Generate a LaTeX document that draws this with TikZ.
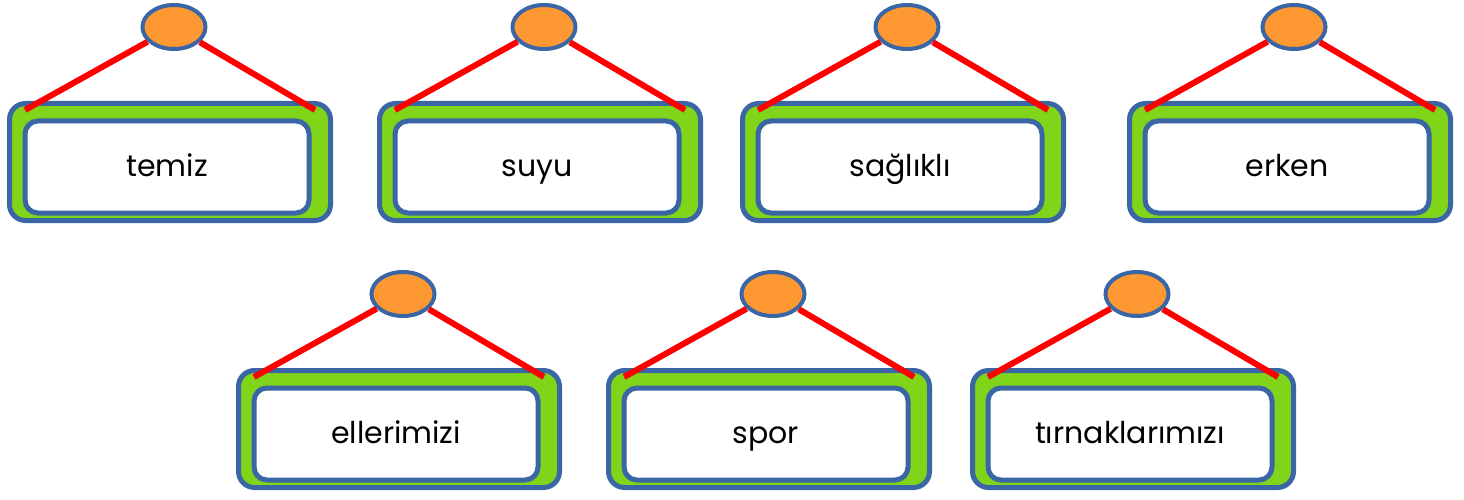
\documentclass[tikz,border=0pt]{standalone}
\usepackage{fontspec}
\setmainfont{Poppins}
\usepackage{tikz}
\usetikzlibrary{shapes.geometric}
\definecolor{mavi}{HTML}{3A66A6}
\definecolor{yesil}{HTML}{80D41A}
\definecolor{turuncu}{HTML}{FD9832}
\tikzstyle{levha} = [draw=mavi, fill=yesil, line width=5pt, rectangle, rounded corners=16pt, minimum width=321pt, minimum height=117pt, inner sep=0pt]
\tikzstyle{yazilik} = [draw=mavi, fill=white, line width=5pt, rectangle, rounded corners=13pt, minimum width=284pt, minimum height=92pt, inner sep=0pt, text height=24pt, text depth=5pt, font=\fontsize{30}{36}\selectfont]
\tikzstyle{halka} = [draw=mavi, fill=turuncu, line width=4pt, ellipse, minimum width=63pt, minimum height=44pt, inner sep=0pt]
\tikzstyle{ip} = [draw=red, line width=6pt]

\begin{document}
\begin{tikzpicture}[x=1pt,y=-1pt]
	\useasboundingbox (0,0) rectangle (1464,500);
	\foreach \ad/\x/\y/\yazi in {1/170/162/temiz, 2/540/162/suyu, 3/903/162/sağlıklı, 4/1290/162/erken, 5/399/429/ellerimizi, 6/769/429/spor, 7/1133/429/tırnaklarımızı}{
		\node[levha] (kutu\ad) at (\x,\y) {};
		\node[yazilik] (ic\ad) at ([shift={(-3,5)}]kutu\ad.center) {\yazi};
		\node[halka] (halka\ad) at ([shift={(4,-135)}]kutu\ad.center) {};
		\coordinate (sol\ad) at ([shift={(-145,-52)}]kutu\ad.center);
		\coordinate (sag\ad) at ([shift={(145,-52)}]kutu\ad.center);
		\draw[ip] (sol\ad) -- (halka\ad);
		\draw[ip] (sag\ad) -- (halka\ad);
	}
\end{tikzpicture}
\end{document}
